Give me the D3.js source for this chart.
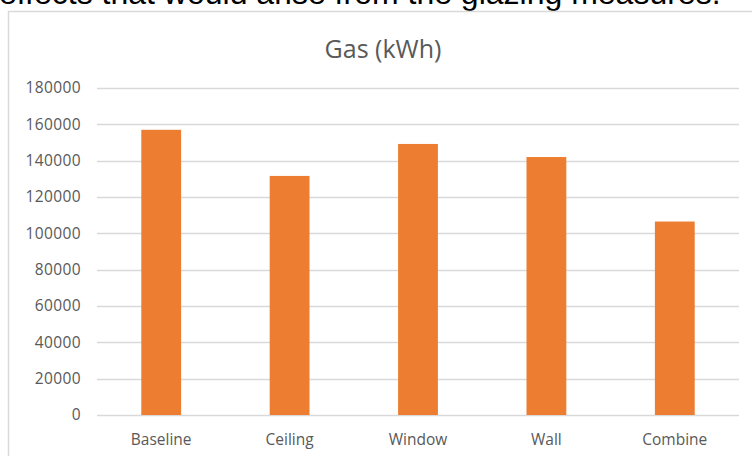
<!DOCTYPE html>
<html>
<head>
<meta charset="utf-8">
<script src="https://cdn.jsdelivr.net/npm/d3@7"></script>
<style>
  body { margin: 0; background: #fff; }
  svg { display: block; }
</style>
</head>
<body>
<div class="canvas"></div>
<script>
const categories = ['Baseline', 'Ceiling', 'Window', 'Wall', 'Combine'];
const gasValues = [157000, 131600, 149200, 142000, 106500];
const yTicks = [0, 20000, 40000, 60000, 80000, 100000, 120000, 140000, 160000, 180000];

const data = categories.map((c, i) => ({ name: c, value: gasValues[i] }));

const svg = d3.select('.canvas')
    .append('svg')
    .attr('width', 752)
    .attr('height', 456)

// text from the page above the chart, cut at the top
svg.append('text')
    .attr('x', -1)
    .attr('y', 4)
    .attr('font-family', 'Liberation Sans, Arial, sans-serif')
    .attr('font-size', '32px')
    .attr('fill', '#000')
    .text('effects that would arise from the glazing measures.');

// chart frame
svg.append('rect')
    .attr('x', 8.5)
    .attr('y', 11.5)
    .attr('width', 800)
    .attr('height', 500)
    .attr('fill', '#fff')
    .attr('stroke', '#d9d9d9')
    .attr('stroke-width', 1.5);

const margin = { top: 88, left: 97, right: 13, bottom: 41 };
const graphWidth = 752 - margin.left - margin.right;
const graphHeight = 456 - margin.top - margin.bottom;

const graph = svg.append('g')
    .attr('transform', `translate(${margin.left}, ${margin.top})`)

const y = d3.scaleLinear()
    .domain([0, 180000])
    .range([graphHeight, 0]);

const x = d3.scaleBand()
    .domain(categories)
    .range([0, graphWidth])
    .paddingInner(0.69)
    .paddingOuter(0.345);

// gridlines
graph.append('g')
    .selectAll('line')
    .data(yTicks)
    .enter()
    .append('line')
    .attr('x1', 0)
    .attr('x2', graphWidth)
    .attr('y1', d => Math.round(y(d)) + 0.5)
    .attr('y2', d => Math.round(y(d)) + 0.5)
    .attr('stroke', '#d9d9d9')
    .attr('stroke-width', 1.3);

const yAxis = d3.axisLeft(y)
    .tickValues(yTicks)
    .tickSize(0)
    .tickPadding(16)
    .tickFormat(d => d);

const yAxisGroup = graph.append('g').call(yAxis);
yAxisGroup.select('.domain').remove();
yAxisGroup.selectAll('text')
    .attr('font-family', 'Open Sans, sans-serif')
    .attr('font-size', '15.5px')
    .attr('letter-spacing', '0.4px')
    .attr('fill', '#595959');

// bars
graph.selectAll('rect')
    .data(data)
    .enter()
    .append('rect')
    .attr('x', d => x(d.name))
    .attr('y', d => y(d.value))
    .attr('width', x.bandwidth())
    .attr('height', d => graphHeight - y(d.value))
    .attr('fill', '#ed7d31');

const xAxis = d3.axisBottom(x).tickSize(0).tickPadding(19);
const xAxisGroup = graph.append('g')
    .attr('transform', `translate(0, ${graphHeight})`)
    .call(xAxis);
xAxisGroup.select('.domain').remove();
xAxisGroup.selectAll('text')
    .attr('font-family', 'Open Sans, sans-serif')
    .attr('font-size', '15.5px')
    .attr('fill', '#595959');

// title
svg.append('text')
    .attr('x', 383)
    .attr('y', 58)
    .attr('text-anchor', 'middle')
    .attr('font-family', 'Open Sans, sans-serif')
    .attr('font-size', '25px')
    .attr('fill', '#595959')
    .text('Gas (kWh)');
</script>
</body>
</html>
